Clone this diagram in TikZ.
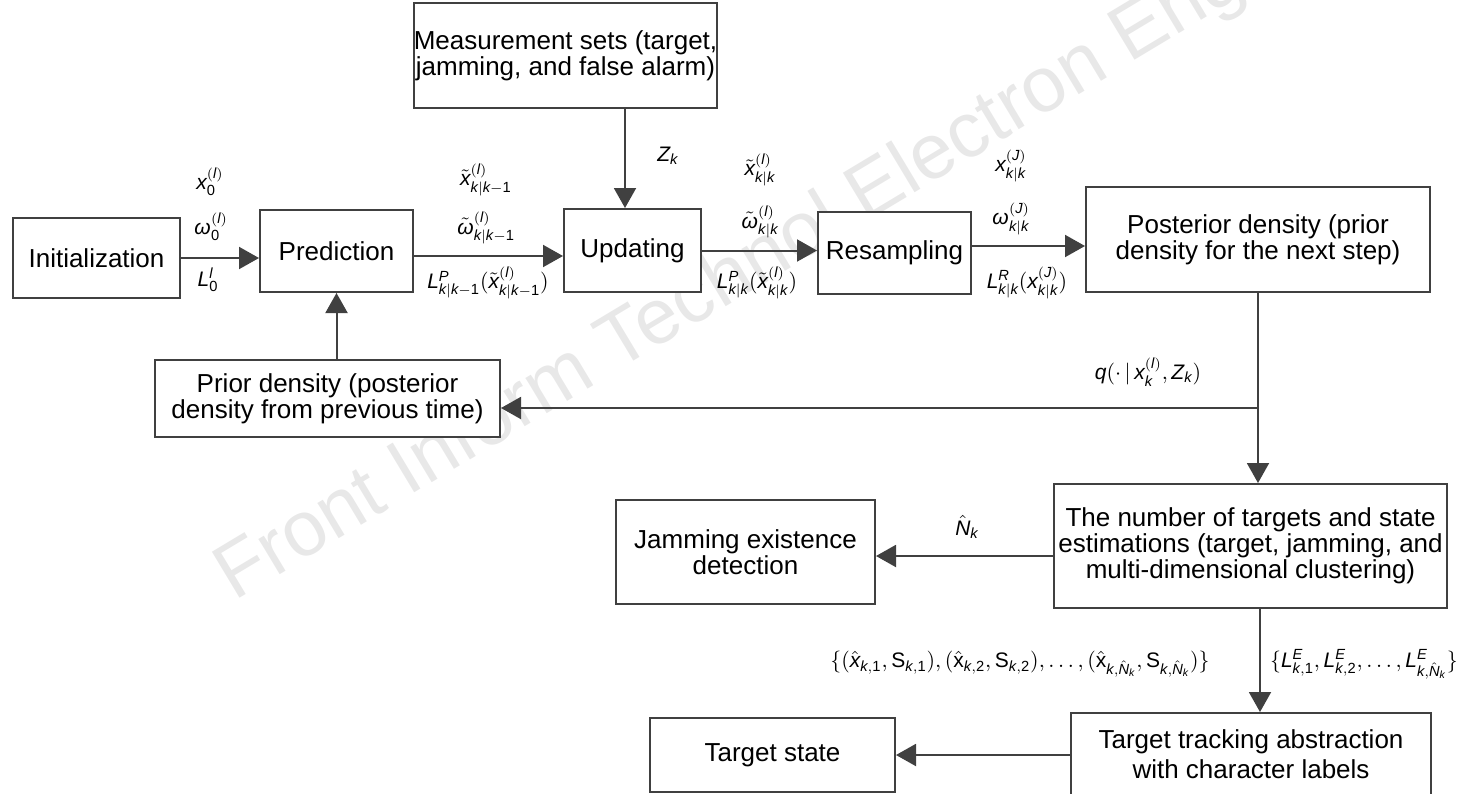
\documentclass[tikz,border=0pt]{standalone}
\usepackage{mathspec}
\setmainfont{Liberation Sans}
\setmathsfont(Digits,Latin,Greek){Liberation Sans}
\usetikzlibrary{arrows.meta,calc}
\definecolor{linec}{HTML}{404040}
\definecolor{wmark}{HTML}{E8E8E8}
\tikzset{
  box/.style={draw=linec, line width=1pt, fill=white, align=center, inner sep=0pt,
              font=\fontsize{13}{13}\selectfont},
  arr/.style={draw=linec, line width=1pt, -{Triangle[length=10pt,width=11pt]}},
  lbl/.style={inner sep=0pt, font=\fontsize{10.5}{12}\selectfont}
}
\newcommand{\up}[1]{\mbox{#1}}
\begin{document}
\begin{tikzpicture}[x=0.5pt, y=-0.5pt]
\useasboundingbox (0,0) rectangle (1457,793);
% background watermark
\node[rotate=31, anchor=base west, text=wmark, inner sep=0pt,
      font=\fontsize{39}{39}\selectfont] at (234,602) {Front Inform Technol Electron Eng};

% process blocks
\node[box, minimum width=112.5pt, minimum height=52.5pt] (meas) at (565.5,55.5)
  {Measurement sets (target,\\jamming, and false alarm)};
\node[box, minimum width=83.5pt, minimum height=40pt] (init) at (96.5,258) {Initialization};
\node[box, minimum width=76.5pt, minimum height=41pt] (pred) at (336.5,251) {Prediction};
\node[box, minimum width=68.5pt, minimum height=41.5pt] (upd) at (632.5,250.5) {Updating};
\node[box, minimum width=76.5pt, minimum height=41pt] (res) at (894.5,253) {Resampling};
\node[box, minimum width=172pt, minimum height=52.5pt] (post) at (1258,239.5)
  {Posterior density (prior\\density for the next step)};
\node[box, minimum width=172.5pt, minimum height=38.5pt] (prior) at (327.5,398.5)
  {Prior density (posterior\\density from previous time)};
\node[box, minimum width=196.5pt, minimum height=62pt] (num) at (1250.5,546)
  {The number of targets and state\\estimations (target, jamming, and\\multi-dimensional clustering)};
\node[box, minimum width=129.5pt, minimum height=52pt] (jam) at (745.5,552)
  {Jamming existence\\detection};
\node[box, minimum width=180pt, minimum height=43.5pt, text depth=0pt] (track) at (1251,756.5)
  {\raisebox{2.5pt}{\shortstack{Target tracking abstraction\\with character labels}}};
\node[box, minimum width=122.5pt, minimum height=37pt] (tstate) at (772.5,755) {Target state};

% connectors
\draw[arr] (init.east) -- (init.east -| pred.west);
\draw[arr] ([yshift=-2.5pt]pred.east) -- ([yshift=-2.5pt]pred.east -| upd.west);
\draw[arr] ([xshift=29.75pt]meas.south) -- ([xshift=29.75pt]meas.south |- upd.north);
\draw[arr] (upd.east) -- (upd.east -| res.west);
\draw[arr] ([yshift=3.5pt]res.east) -- ([yshift=3.5pt]res.east -| post.west);
\draw[arr] (post.south) -- (post.south |- num.north);
\coordinate (br) at ([yshift=-4.75pt]post.south |- prior.east);
\draw[arr] (br) -- (br -| prior.east);
\draw[arr] (pred.south |- prior.north) -- (pred.south);
\draw[arr] ([yshift=-2pt]num.west |- jam.east) -- ([yshift=-2pt]jam.east);
\draw[arr] ([xshift=4.75pt]num.south) -- ([xshift=4.75pt]num.south |- track.north);
\draw[arr] (track.west |- tstate.east) -- (tstate.east);

% connector labels
\node[lbl] (l1) at (210,182) {$x_0^{(l)}$};
\node[lbl] (l2) at (211,227) {$\omega_0^{(l)}$};
\node[lbl] (l3) at (208,280) {$L_0^{l}$};
\node[lbl] (l4) at (486,180) {$\tilde{x}_{k|k-1}^{(l)}$};
\node[lbl] (l5) at (486,228) {$\tilde{\omega}_{k|k-1}^{(l)}$};
\node[lbl] (l6) at (488,283) {$L_{k|k-1}^{P}(\tilde{x}_{k|k-1}^{(l)})$};
\node[lbl] (l7) at (668,156) {$Z_k$};
\node[lbl] (l8) at (760,170) {$\tilde{x}_{k|k}^{(l)}$};
\node[lbl] (l9) at (760,222) {$\tilde{\omega}_{k|k}^{(l)}$};
\node[lbl] (l10) at (757,283) {$L_{k|k}^{P}(\tilde{x}_{k|k}^{(l)})$};
\node[lbl] (l11) at (1011,166) {$x_{k|k}^{(J)}$};
\node[lbl] (l12) at (1011,219) {$\omega_{k|k}^{(J)}$};
\node[lbl] (l13) at (1027,283) {$L_{k|k}^{R}(x_{k|k}^{(J)})$};
\node[lbl] (l14) at (1148,372) {$q(\cdot\,|\,x_k^{(l)},Z_k)$};
\node[lbl] (l15) at (967,527) {$\hat{N}_k$};
\node[lbl] (l16) at (1020,664)
  {$\{(\hat{x}_{k,1},\up{S}_{k,1}),(\hat{\up{x}}_{k,2},\up{S}_{k,2}),\ldots,(\hat{\up{x}}_{k,\hat{N}_k},\up{S}_{k,\hat{N}_k})\}$};
\node[lbl] (l17) at (1364,664) {$\{L_{k,1}^{E},L_{k,2}^{E},\ldots,L_{k,\hat{N}_k}^{E}\}$};
\end{tikzpicture}
\end{document}
